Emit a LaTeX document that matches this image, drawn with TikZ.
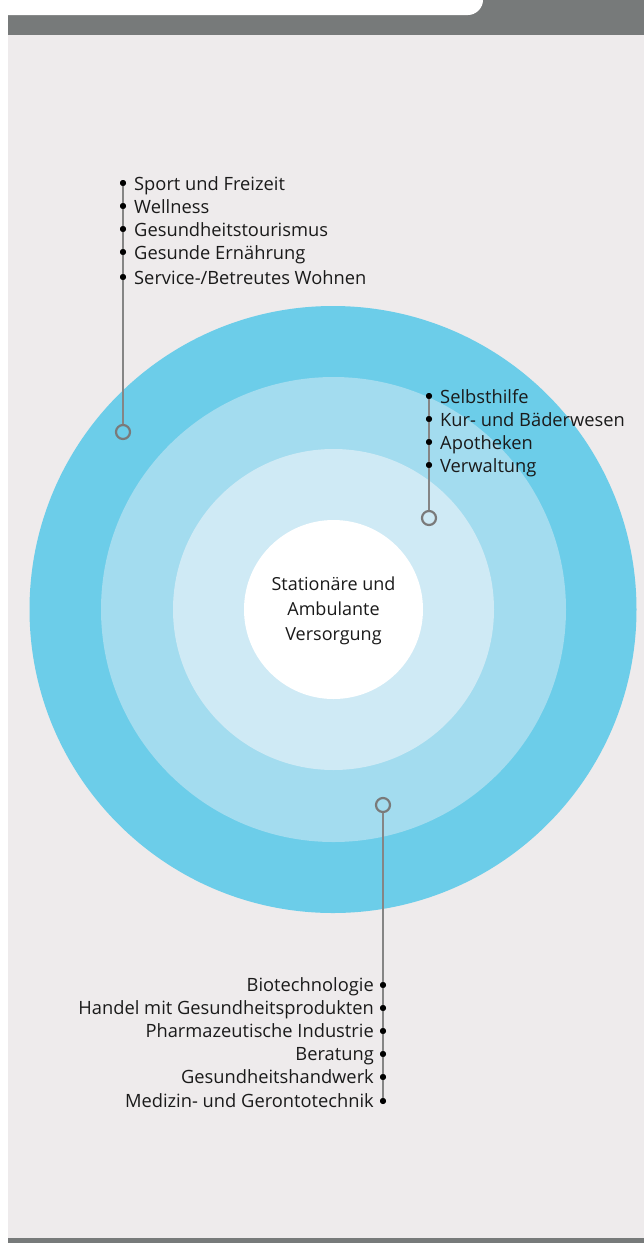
\documentclass[tikz,border=0pt]{standalone}
\usepackage{fontspec}
\setmainfont{Open Sans}
\definecolor{pagebg}{HTML}{EEEBEC}
\definecolor{barg}{HTML}{777A7A}
\definecolor{ringA}{HTML}{6CCDE9}
\definecolor{ringB}{HTML}{A3DCEF}
\definecolor{ringC}{HTML}{CFEAF5}
\definecolor{lineg}{HTML}{858585}
\definecolor{markg}{HTML}{7A7A7A}
\definecolor{txt}{HTML}{1A1A1A}
\begin{document}
\begin{tikzpicture}[x=1pt,y=-1pt,
  lbl/.style={font=\fontsize{18.3}{21}\selectfont, text=txt, inner sep=0pt},
  dotm/.style={circle, fill=black, inner sep=0pt, minimum size=6pt},
  ringm/.style={circle, draw=markg, line width=2.2pt, fill=none, inner sep=0pt, minimum size=14pt},
  conn/.style={draw=lineg, line width=1.3pt}]
\useasboundingbox (0,0) rectangle (644,1243);
% page
\fill[pagebg] (8,0) rectangle (644,1243);
\fill[barg] (8,0) rectangle (644,35);
\fill[white] (8,0) -- (483,0) .. controls (483,8) and (476,15) .. (468,15) -- (8,15) -- cycle;
\fill[barg] (8,1238) rectangle (644,1243);
% rings
\fill[ringA] (333,609.5) circle[radius=303.5];
\fill[ringB] (333.5,609.5) circle[radius=232.5];
\fill[ringC] (333.5,609.5) circle[radius=160.5];
\fill[white] (333.5,609.5) circle[radius=89.5];
\node[lbl, align=center, font=\fontsize{18}{25}\selectfont] (core) at (333.5,611) {Stationäre und\\Ambulante\\Versorgung};
% top-left group
\node[ringm] (m1) at (123,432) {};
\foreach \y/\t [count=\i] in {183/{Sport und Freizeit}, 206/{Wellness}, 229/{Gesundheitstourismus}, 252/{Gesunde Ernährung}, 277/{Service-/Betreutes Wohnen}}{
  \node[dotm] (a\i) at (123,\y) {};
  \node[lbl, anchor=base west] (ta\i) at (134,\y+7) {\t};
}
\draw[conn] (a1.center) -- (m1.north);
% right group
\node[ringm] (m2) at (429,518) {};
\foreach \y/\t [count=\i] in {396/{Selbsthilfe}, 419/{Kur- und Bäderwesen}, 442/{Apotheken}, 465/{Verwaltung}}{
  \node[dotm] (b\i) at (429,\y) {};
  \node[lbl, anchor=base west] (tb\i) at (440,\y+7) {\t};
}
\draw[conn] (b1.center) -- (m2.north);
% bottom group
\node[ringm] (m3) at (383,805) {};
\foreach \y/\t [count=\i] in {985/{Biotechnologie}, 1008/{Handel mit Gesundheitsprodukten}, 1031/{Pharmazeutische Industrie}, 1054/{Beratung}, 1077/{Gesundheitshandwerk}, 1101/{Medizin- und Gerontotechnik}}{
  \node[dotm] (c\i) at (383,\y) {};
  \node[lbl, anchor=base east] (tc\i) at (374,\y+6) {\t};
}
\draw[conn] (m3.south) -- (c6.center);
% redraw dots over lines
\foreach \n in {a1,a2,a3,a4,a5,b1,b2,b3,b4,c1,c2,c3,c4,c5,c6}{\fill[black] (\n) circle[radius=3pt];}
\end{tikzpicture}
\end{document}
